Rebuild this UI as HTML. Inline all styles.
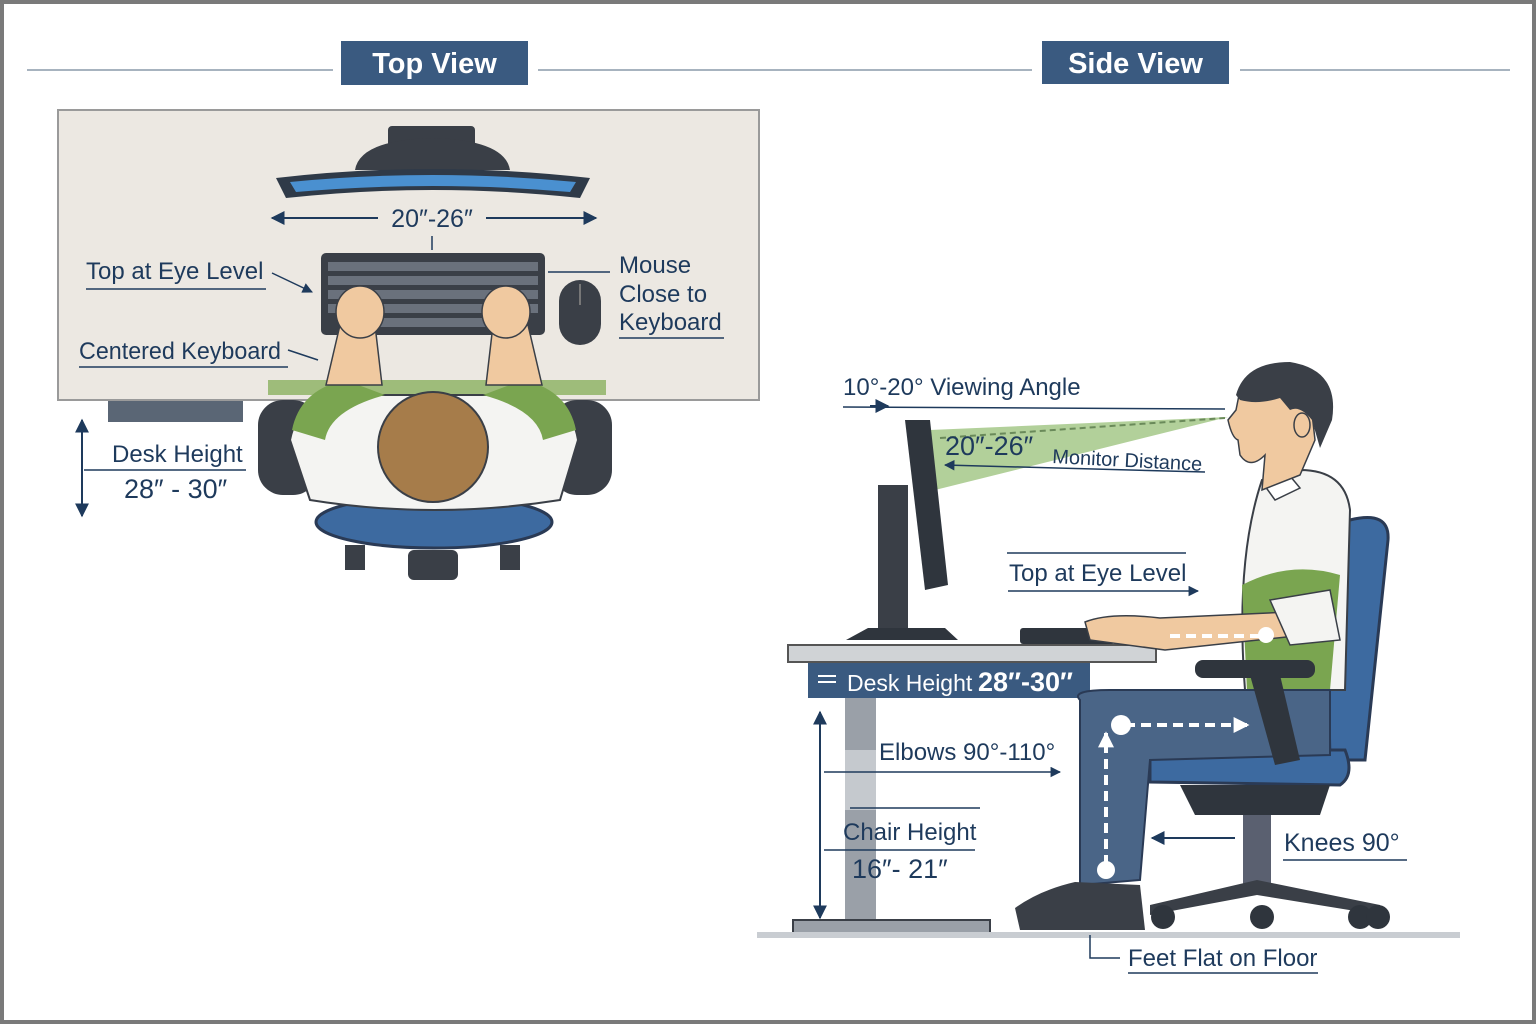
<!DOCTYPE html>
<html><head><meta charset="utf-8"><style>
html,body{margin:0;padding:0;background:#fff}
svg{display:block}
text{font-family:"Liberation Sans",sans-serif;fill:#1e3a5c}
</style></head><body>
<svg width="1536" height="1024" viewBox="0 0 1536 1024" xmlns="http://www.w3.org/2000/svg">
<defs>
<marker id="ah" viewBox="0 0 10 10" refX="9" refY="5" markerWidth="7" markerHeight="7" orient="auto-start-reverse"><path d="M0,0L10,5L0,10z" fill="#1e3a5c"/></marker>
<marker id="wh" viewBox="0 0 10 10" refX="9" refY="5" markerWidth="4" markerHeight="4" orient="auto-start-reverse"><path d="M0,0L10,5L0,10z" fill="#fff"/></marker>
</defs>
<rect x="2" y="2" width="1532" height="1020" fill="#fff" stroke="#7a7a7a" stroke-width="4"/>
<g stroke="#8a9aaa" stroke-width="1.5"><line x1="27" y1="70" x2="333" y2="70"/><line x1="538" y1="70" x2="1032" y2="70"/><line x1="1240" y1="70" x2="1510" y2="70"/></g>
<rect x="341" y="41" width="187" height="44" fill="#3a5a80"/>
<text x="434.5" y="73" font-size="29" font-weight="bold" text-anchor="middle" style="fill:#fff">Top View</text>
<rect x="1042" y="41" width="187" height="43" fill="#3a5a80"/>
<text x="1135.5" y="73" font-size="29" font-weight="bold" text-anchor="middle" style="fill:#fff">Side View</text>

<!-- TOP VIEW -->
<rect x="108" y="398" width="135" height="24" fill="#5a6675"/>
<rect x="58" y="110" width="701" height="290" fill="#ece8e2" stroke="#9a9a9a" stroke-width="2"/>
<rect x="388" y="126" width="87" height="28" rx="4" fill="#3a3f47"/>
<path d="M355,170 Q360,140 432,138 Q505,140 510,170z" fill="#3a3f47"/>
<path d="M276,178 Q432,160 590,178 L580,198 Q432,182 286,198z" fill="#2f3a48"/>
<path d="M290,182 Q432,168 576,182 L570,192 Q432,180 296,192z" fill="#4a90d0"/>
<line x1="272" y1="218" x2="378" y2="218" stroke="#1e3a5c" stroke-width="2" marker-start="url(#ah)"/>
<line x1="486" y1="218" x2="596" y2="218" stroke="#1e3a5c" stroke-width="2" marker-end="url(#ah)"/>
<text x="432" y="227" font-size="25" text-anchor="middle">20″-26″</text>
<line x1="432" y1="236" x2="432" y2="250" stroke="#1e3a5c" stroke-width="1.5"/>
<rect x="321" y="253" width="224" height="82" rx="5" fill="#3a3f47"/>
<g fill="#6a717c">
<rect x="328" y="262" width="210" height="9"/><rect x="328" y="276" width="210" height="9"/><rect x="328" y="290" width="210" height="9"/><rect x="328" y="304" width="210" height="9"/><rect x="360" y="318" width="140" height="9"/>
</g>
<rect x="559" y="280" width="42" height="65" rx="21" fill="#3a3f47"/>
<line x1="580" y1="284" x2="580" y2="305" stroke="#777" stroke-width="2"/>
<text x="86" y="279" font-size="24">Top at Eye Level</text>
<line x1="86" y1="289" x2="266" y2="289" stroke="#1e3a5c" stroke-width="1.5"/>
<line x1="272" y1="273" x2="312" y2="292" stroke="#1e3a5c" stroke-width="1.5" marker-end="url(#ah)"/>
<text x="79" y="359" font-size="24" textLength="202" lengthAdjust="spacingAndGlyphs">Centered Keyboard</text>
<line x1="79" y1="367" x2="288" y2="367" stroke="#1e3a5c" stroke-width="1.5"/>
<line x1="288" y1="350" x2="318" y2="360" stroke="#1e3a5c" stroke-width="1.5"/>
<text x="619" y="273" font-size="24">Mouse</text>
<text x="619" y="302" font-size="24">Close to</text>
<text x="619" y="330" font-size="24">Keyboard</text>
<line x1="619" y1="338" x2="724" y2="338" stroke="#1e3a5c" stroke-width="1.5"/>
<line x1="548" y1="272" x2="610" y2="272" stroke="#1e3a5c" stroke-width="1.5"/>
<rect x="268" y="380" width="338" height="15" fill="#8bb060" opacity="0.8"/>
<rect x="258" y="400" width="60" height="95" rx="25" fill="#3a3f47"/>
<rect x="552" y="400" width="60" height="95" rx="25" fill="#3a3f47"/>
<ellipse cx="434" cy="522" rx="118" ry="26" fill="#3d6aa0" stroke="#2a3a55" stroke-width="3"/>
<rect x="345" y="545" width="20" height="25" fill="#3a3f47"/><rect x="500" y="545" width="20" height="25" fill="#3a3f47"/><rect x="408" y="550" width="50" height="30" rx="6" fill="#3a3f47"/>
<path d="M290,440 Q300,390 360,395 L510,395 Q570,390 578,440 L560,500 Q434,520 310,500z" fill="#f4f4f2" stroke="#3a3f47" stroke-width="2"/>
<path d="M292,430 Q300,390 345,380 L385,395 Q330,410 325,440z" fill="#7aa550"/>
<path d="M576,430 Q568,390 523,380 L483,395 Q538,410 543,440z" fill="#7aa550"/>
<path d="M326,385 L340,325 L375,325 L382,385z" fill="#f0c9a0" stroke="#3a3f47" stroke-width="1.5"/>
<path d="M542,385 L528,325 L493,325 L486,385z" fill="#f0c9a0" stroke="#3a3f47" stroke-width="1.5"/>
<ellipse cx="360" cy="312" rx="24" ry="26" fill="#f0c9a0" stroke="#3a3f47" stroke-width="1.5"/>
<ellipse cx="506" cy="312" rx="24" ry="26" fill="#f0c9a0" stroke="#3a3f47" stroke-width="1.5"/>
<circle cx="433" cy="447" r="55" fill="#a67c4a" stroke="#3a3f47" stroke-width="2"/>
<line x1="82" y1="420" x2="82" y2="516" stroke="#1e3a5c" stroke-width="2" marker-start="url(#ah)" marker-end="url(#ah)"/>
<text x="112" y="462" font-size="24">Desk Height</text>
<line x1="84" y1="470" x2="246" y2="470" stroke="#1e3a5c" stroke-width="1.5"/>
<text x="124" y="498" font-size="27">28″ - 30″</text>

<!-- SIDE VIEW -->
<text x="843" y="395" font-size="24">10°-20° Viewing Angle</text>
<line x1="843" y1="407" x2="1225" y2="409" stroke="#1e3a5c" stroke-width="1.5"/>
<line x1="870" y1="406" x2="888" y2="406" stroke="#1e3a5c" stroke-width="2" marker-end="url(#ah)"/>
<polygon points="930,430 1228,417 935,490" fill="#a5c888" opacity="0.85"/>
<line x1="940" y1="438" x2="1225" y2="418" stroke="#6a8a5a" stroke-width="2" stroke-dasharray="6,4"/>
<text x="945" y="455" font-size="27">20″-26″</text>
<text x="1052" y="463" font-size="20" transform="rotate(3 1052 463)">Monitor Distance</text>
<line x1="945" y1="465" x2="1205" y2="472" stroke="#1e3a5c" stroke-width="1.5" marker-start="url(#ah)"/>
<rect x="878" y="485" width="30" height="150" fill="#3a3f47"/>
<polygon points="905,420 930,420 948,585 925,590" fill="#2f353d"/>
<polygon points="846,640 868,628 945,628 958,640" fill="#2f353d"/>
<line x1="1007" y1="553" x2="1186" y2="553" stroke="#1e3a5c" stroke-width="1.5"/>
<text x="1009" y="581" font-size="24">Top at Eye Level</text>
<line x1="1008" y1="591" x2="1198" y2="591" stroke="#1e3a5c" stroke-width="1.5" marker-end="url(#ah)"/>
<rect x="845" y="698" width="31" height="222" fill="#9aa0a8"/>
<rect x="845" y="750" width="31" height="60" fill="#c5c9ce"/>
<rect x="793" y="920" width="197" height="15" fill="#9aa0a8" stroke="#3a3f47" stroke-width="2"/>
<rect x="757" y="932" width="703" height="6" fill="#c9cdd2"/>
<rect x="808" y="660" width="282" height="38" fill="#3a5a80"/>
<line x1="818" y1="676" x2="836" y2="676" stroke="#fff" stroke-width="2"/><line x1="818" y1="682" x2="836" y2="682" stroke="#fff" stroke-width="2"/>
<text x="847" y="691" font-size="23" style="fill:#fff">Desk Height</text>
<text x="978" y="691" font-size="27" font-weight="bold" style="fill:#fff">28″-30″</text>
<rect x="788" y="645" width="368" height="17" fill="#d0d3d6" stroke="#555" stroke-width="2"/>
<rect x="1020" y="628" width="95" height="16" rx="3" fill="#2f353d"/>
<!-- chair side -->
<path d="M1350,520 Q1390,510 1388,540 L1365,760 L1330,760 L1325,540z" fill="#3d6aa0" stroke="#2a3a55" stroke-width="3"/>
<path d="M1150,750 L1345,750 Q1355,775 1340,785 L1150,782z" fill="#3d6aa0" stroke="#2a3a55" stroke-width="3"/>
<path d="M1180,785 L1330,785 L1320,815 L1195,815z" fill="#2f353d"/>
<rect x="1243" y="815" width="28" height="80" fill="#5a6070"/>
<path d="M1150,905 L1257,880 L1380,905 L1380,915 L1257,895 L1150,915z" fill="#3a3f47"/>
<circle cx="1163" cy="917" r="12" fill="#2f353d"/><circle cx="1262" cy="917" r="12" fill="#2f353d"/><circle cx="1360" cy="917" r="12" fill="#2f353d"/><circle cx="1378" cy="917" r="12" fill="#2f353d"/>
<!-- person -->
<path d="M1262,480 L1300,470 Q1345,470 1350,510 L1345,690 L1245,690 Q1235,560 1262,480z" fill="#f4f4f2" stroke="#3a3f47" stroke-width="2"/>
<path d="M1262,482 L1285,470 L1300,488 L1275,500z" fill="#fff" stroke="#3a3f47" stroke-width="1.5"/>
<path d="M1242,585 Q1290,560 1340,575 L1330,690 L1247,690z" fill="#7aa550"/>
<path d="M1080,700 Q1070,690 1110,690 L1330,690 L1330,755 L1150,760 L1140,880 L1080,885z" fill="#4a6587" stroke="#2a3a55" stroke-width="2"/>
<path d="M1015,908 Q1040,890 1075,882 L1140,885 L1145,930 L1020,930z" fill="#3a3f47"/>
<path d="M1085,622 Q1110,612 1160,618 L1290,612 L1305,635 L1165,650 L1090,640z" fill="#f0c9a0" stroke="#3a3f47" stroke-width="1.5"/>
<path d="M1270,600 L1330,590 L1340,640 L1290,645z" fill="#f4f4f2" stroke="#3a3f47" stroke-width="1.5"/>
<rect x="1195" y="660" width="120" height="18" rx="8" fill="#2f353d"/>
<polygon points="1250,675 1280,675 1300,760 1275,765" fill="#2f353d"/>
<!-- head -->
<path d="M1262,490 L1265,455 Q1250,470 1240,455 L1238,440 Q1232,438 1228,420 L1236,410 L1240,390 L1310,395 L1315,440 L1300,475z" fill="#f0c9a0" stroke="#3a3f47" stroke-width="1.5"/>
<path d="M1236,395 Q1245,362 1290,362 Q1340,370 1332,420 L1320,448 L1312,420 Q1300,405 1290,410 L1280,398 Q1258,405 1240,400z" fill="#3a3f47"/>
<ellipse cx="1302" cy="425" rx="8" ry="12" fill="#f0c9a0" stroke="#3a3f47" stroke-width="1.5"/>
<line x1="1170" y1="636" x2="1265" y2="636" stroke="#fff" stroke-width="4" stroke-dasharray="10,6"/>
<circle cx="1266" cy="635" r="8" fill="#fff"/>
<line x1="1125" y1="725" x2="1248" y2="725" stroke="#fff" stroke-width="4" stroke-dasharray="10,6" marker-end="url(#wh)"/>
<circle cx="1121" cy="725" r="10" fill="#fff"/>
<line x1="1106" y1="865" x2="1106" y2="733" stroke="#fff" stroke-width="4" stroke-dasharray="10,6" marker-end="url(#wh)"/>
<circle cx="1106" cy="870" r="9" fill="#fff"/>
<line x1="820" y1="712" x2="820" y2="918" stroke="#1e3a5c" stroke-width="2" marker-start="url(#ah)" marker-end="url(#ah)"/>
<text x="879" y="760" font-size="24">Elbows 90°-110°</text>
<line x1="824" y1="772" x2="1060" y2="772" stroke="#1e3a5c" stroke-width="1.5" marker-end="url(#ah)"/>
<line x1="850" y1="808" x2="980" y2="808" stroke="#1e3a5c" stroke-width="1.5"/>
<text x="843" y="840" font-size="24">Chair Height</text>
<line x1="824" y1="850" x2="975" y2="850" stroke="#1e3a5c" stroke-width="1.5"/>
<text x="852" y="878" font-size="27">16″- 21″</text>
<line x1="1235" y1="838" x2="1152" y2="838" stroke="#1e3a5c" stroke-width="2" marker-end="url(#ah)"/>
<text x="1284" y="851" font-size="25">Knees 90°</text>
<line x1="1283" y1="860" x2="1407" y2="860" stroke="#1e3a5c" stroke-width="1.5"/>
<path d="M1090,935 L1090,958 L1120,958" fill="none" stroke="#1e3a5c" stroke-width="1.5"/>
<text x="1128" y="966" font-size="24">Feet Flat on Floor</text>
<line x1="1128" y1="973" x2="1318" y2="973" stroke="#1e3a5c" stroke-width="1.5"/>
</svg>
</body></html>
